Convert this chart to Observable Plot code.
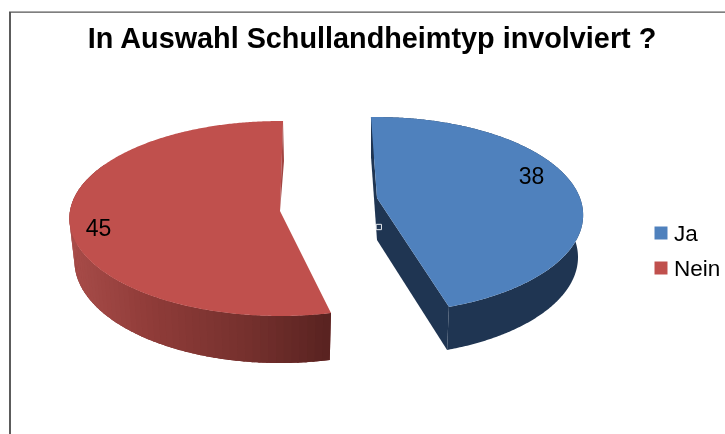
<!DOCTYPE html>
<html><head><meta charset="utf-8">
<script src="https://cdn.jsdelivr.net/npm/d3@7"></script>
<script src="https://cdn.jsdelivr.net/npm/@observablehq/plot@0.6"></script>
<style>html,body{margin:0;padding:0;background:#fff}svg{display:block;filter:blur(0.35px)}</style>
</head><body><div id="chart"></div>
<script>
const titleText = "In Auswahl Schullandheimtyp involviert ?";
const categories = ["Ja", "Nein"];
const values = [38, 45];
const topColors = ["#4f81bd", "#c0504d"];

// Perspective view of each exploded wedge (layout only)
const views = [
  {ax: 377, ay: 198, R: 203, S: 95, k: 0.174, rot: -2, trim: 0, depth: 42, Rb: 0.975, Sb: 1.01, label: [154, -22]},
  {ax: 280, ay: 211, R: 210, S: 96.9, k: 0.077, rot: 2.2, trim: 1.3, depth: 42, Rb: 0.976, Sb: 1.048, label: [-182, 17]}
];
const rad = Math.PI / 180;
const total = d3.sum(values);
let cum = 0;
const slices = categories.map((name, i) => {
  const a0 = cum / total * 360; cum += values[i];
  return {name, value: values[i], a0: a0 + views[i].rot, a1: cum / total * 360 + views[i].rot - views[i].trim, view: views[i], color: topColors[i]};
});
function rim(v, a, bottom) {
  const u = Math.sin(a * rad), w = Math.cos(a * rad), d = 1 + v.k * w;
  return bottom
    ? [v.ax + v.R * v.Rb * u / d, v.ay + v.depth - v.S * v.Sb * w / d]
    : [v.ax + v.R * u / d, v.ay - v.S * w / d];
}
const angles = s => d3.range(s.a0, s.a1, 0.5).concat(s.a1);

const redGradient = d3.scaleLinear().domain([74, 150, 250, 330]).range(["#a84c49", "#903c39", "#74302d", "#582220"]).clamp(true);
const blueWall = "#1f3552";

// whole outer walls, one band per slice
const wallBase = slices.flatMap((s, si) => angles(s).filter(a => a < 300).map(a => {
  const p = rim(s.view, a), q = rim(s.view, a, true);
  return {z: s.name, c: si === 0 ? blueWall : "#7c3331", x1: p[0], y1: p[1], x2: q[0], y2: q[1]};
}));

// red wall shading, stepped along the rim
const strips = [];
{
  const s = slices[1];
  const as = d3.range(s.a0, 290, 2);
  for (let i = 0; i < as.length - 1; i++) {
    const p = [rim(s.view, as[i]), rim(s.view, as[i + 1] + 0.6)];
    const q = [rim(s.view, as[i], true), rim(s.view, as[i + 1] + 0.6, true)];
    const c = redGradient((q[0][0] + q[1][0]) / 2);
    strips.push({z: i, c, x1: p[0][0], y1: p[0][1], x2: q[0][0], y2: q[0][1]});
    strips.push({z: i, c, x1: p[1][0], y1: p[1][1], x2: q[1][0], y2: q[1][1]});
  }
}

// blue radial walls
const blue = slices[0], bv = blue.view;
const wallA = [rim(bv, blue.a1), rim(bv, blue.a1, true)];
const wallB = [rim(bv, blue.a0), rim(bv, blue.a0, true)];
const blueWalls = [
  {z: "a", x1: bv.ax, y1: bv.ay, x2: bv.ax, y2: bv.ay + bv.depth},
  {z: "a", x1: wallA[0][0], y1: wallA[0][1], x2: wallA[1][0], y2: wallA[1][1]},
  {z: "b", x1: wallB[0][0], y1: wallB[0][1], x2: wallB[1][0], y2: wallB[1][1]},
  {z: "b", x1: bv.ax, y1: bv.ay, x2: bv.ax, y2: bv.ay + bv.depth}
];

// top faces: fan from the apex
const faces = slices.flatMap(s => angles(s).map(a => {
  const [x, y] = rim(s.view, a);
  return {name: s.name, c: s.color, x1: x, y1: y, x2: s.view.ax, y2: s.view.ay};
}));

// red back-wall sliver
const rv = slices[1].view;
const sliver = [[3, -90], [4, -50], [0, 0], [-2.5, -4]].map(([dx, dy]) => ({x: rv.ax + dx, y: rv.ay + dy}));

const labels = slices.map(s => ({t: String(s.value), x: s.view.ax + s.view.label[0], y: s.view.ay + s.view.label[1]}));
const legendX = 660.5, legendTextX = 673.5, legendYs = [232.5, 267.5];
const legend = categories.map((name, i) => ({name, c: topColors[i], y: legendYs[i]}));

const chart = Plot.plot({
  width: 725, height: 434, margin: 0,
  x: {domain: [0, 725], range: [0, 725], axis: null},
  y: {domain: [0, 434], range: [0, 434], axis: null},
  color: {type: "identity"},
  style: {fontFamily: "'Liberation Sans', Arial, sans-serif", background: "#fff", color: "#000"},
  marks: [
    Plot.ruleX([9.5], {y1: 12, y2: 434, stroke: "#333", strokeWidth: 1.6}),
    Plot.ruleY([11.7], {x1: 9, x2: 725, stroke: "#555", strokeWidth: 1.3}),
    Plot.area(wallBase, {x1: "x1", y1: "y1", x2: "x2", y2: "y2", z: "z", fill: "c", curve: "linear"}),
    Plot.area(strips, {x1: "x1", y1: "y1", x2: "x2", y2: "y2", z: "z", fill: "c", curve: "linear"}),
    Plot.area(blueWalls, {x1: "x1", y1: "y1", x2: "x2", y2: "y2", z: "z", fill: blueWall, curve: "linear"}),
    Plot.area(faces, {x1: "x1", y1: "y1", x2: "x2", y2: "y2", z: "name", fill: "c", curve: "linear"}),
    Plot.area(sliver, {x1: "x", y1: "y", x2: rv.ax, y2: rv.ay, fill: "#a24542", curve: "linear"}),
    Plot.dot([{x: 378.3, y: 226.5}], {x: "x", y: "y", symbol: "square", r: 3, fill: "none", stroke: "#e6eaef", strokeWidth: 1}),
    Plot.text(labels, {x: "x", y: "y", text: "t", fontSize: 23, fill: "#000"}),
    Plot.dot(legend, {x: legendX, y: "y", symbol: "square", r: 7.33, fill: "c"}),
    Plot.text(legend, {x: legendTextX, y: d => d.y + 0.5, text: "name", textAnchor: "start", fontSize: 22.5, fill: "#000"}),
    Plot.text([titleText], {x: 371.5, y: 38.5, text: d => d, fontSize: 28.8, fontWeight: "bold", fill: "#000"})
  ]
});
document.getElementById("chart").appendChild(chart);
</script>
</body></html>
